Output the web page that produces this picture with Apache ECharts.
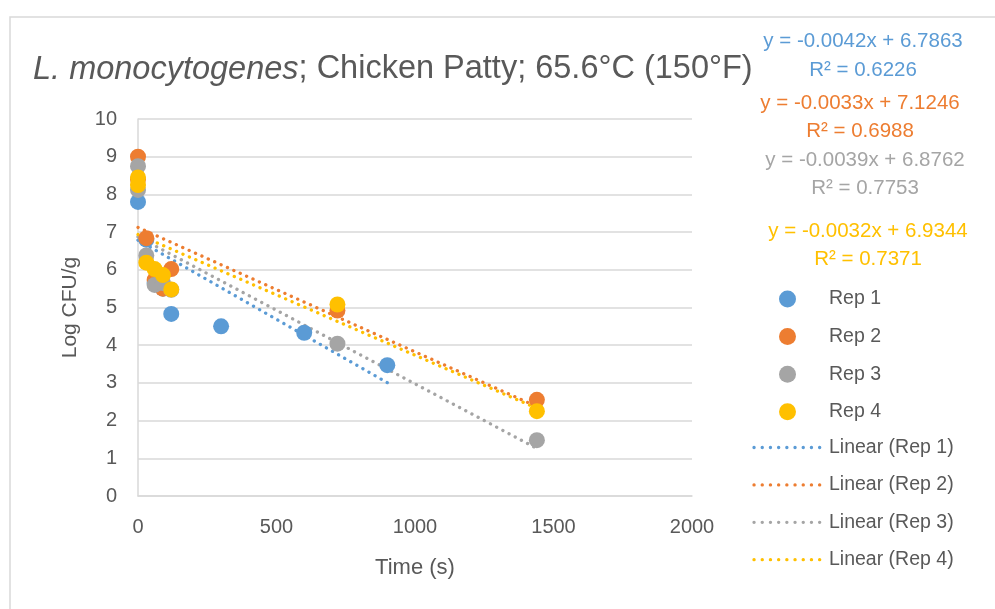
<!DOCTYPE html>
<html><head><meta charset="utf-8">
<script src="https://cdn.jsdelivr.net/npm/echarts@6/dist/echarts.min.js"></script>
<style>html,body{margin:0;padding:0;background:#fff}#c{width:995px;height:609px}</style>
</head><body><div id="c"></div>
<script>
// Data (time in s, Log CFU/g)
const rep1X = [0, 30, 60, 90, 120, 300, 600, 900];
const rep1Y = [7.8, 6.8, 5.65, 5.5, 4.83, 4.5, 4.33, 3.47];
const rep2X = [0, 0, 30, 60, 90, 120, 720, 1440];
const rep2Y = [9.0, 8.4, 6.84, 5.73, 5.5, 6.02, 4.92, 2.55];
const rep3X = [0, 0, 30, 60, 90, 120, 720, 1440];
const rep3Y = [8.75, 8.12, 6.38, 5.6, 5.65, 5.47, 4.04, 1.48];
const rep4X = [0, 0, 30, 60, 90, 120, 720, 1440];
const rep4Y = [8.45, 8.25, 6.19, 6.02, 5.86, 5.48, 5.08, 2.25];
const seriesNames = ['Rep 1', 'Rep 2', 'Rep 3', 'Rep 4'];
const colors = ['#5b9bd5', '#ed7d31', '#a5a5a5', '#ffc000'];
// Trendline coefficients from chart labels
const slopes = [-0.0042, -0.0033, -0.0039, -0.0032];
const intercepts = [6.7863, 7.1246, 6.8762, 6.9344];
const r2 = ['0.6226', '0.6988', '0.7753', '0.7371'];
const eqText = ['y = -0.0042x + 6.7863', 'y = -0.0033x + 7.1246', 'y = -0.0039x + 6.8762', 'y = -0.0032x + 6.9344'];
const trendRange = [[0, 900], [0, 1440], [0, 1440], [0, 1440]];
const xTicks = [0, 500, 1000, 1500, 2000];

const xs = [rep1X, rep2X, rep3X, rep4X];
const ys = [rep1Y, rep2Y, rep3Y, rep4Y];
const FONT = '"Liberation Sans", sans-serif';
const dotStyle = (c) => ({ color: c, width: 3.3, type: [0.1, 6.9], cap: 'round' });

const series = [];
for (let i = 0; i < 4; i++) {
  series.push({
    name: seriesNames[i], type: 'scatter', symbol: 'circle', symbolSize: 16,
    itemStyle: { color: colors[i], opacity: 1 },
    data: xs[i].map((x, j) => [x, ys[i][j]]), z: 3 + i
  });
}
for (let i = 0; i < 4; i++) {
  const r = trendRange[i];
  series.push({
    name: 'Linear (' + seriesNames[i] + ')', type: 'line', symbol: 'none', silent: true,
    lineStyle: dotStyle(colors[i]),
    data: r.map(x => [x, intercepts[i] + slopes[i] * x]), z: 2
  });
}

const eqPos = [[41, 70], [103, 131], [160, 188], [231, 259]];
const eqCx = [863, 860, 865, 868];
const graphics = [{
  type: 'rect', shape: { x: 10, y: 17, width: 1000, height: 620 },
  style: { fill: 'none', stroke: '#d9d9d9', lineWidth: 1.5 }, silent: true
}];
for (let i = 0; i < 4; i++) {
  graphics.push({ type: 'text', x: eqCx[i], y: eqPos[i][0], style: { text: eqText[i], fill: colors[i], font: '20.5px ' + FONT, textAlign: 'center', textVerticalAlign: 'middle' } });
  graphics.push({ type: 'text', x: eqCx[i], y: eqPos[i][1], style: { text: 'R² = ' + r2[i], fill: colors[i], font: '20.5px ' + FONT, textAlign: 'center', textVerticalAlign: 'middle' } });
}
// legend entries for the trendlines
const legY0 = 447.5, legStep = 37.4;
for (let i = 0; i < 4; i++) {
  const y = legY0 + legStep * i;
  graphics.push({ type: 'line', shape: { x1: 754, y1: y, x2: 820, y2: y }, style: { stroke: colors[i], lineWidth: 3.3, lineDash: [0.1, 8.1], lineCap: 'round' }, silent: true });
  graphics.push({ type: 'text', x: 829, y: y, style: { text: 'Linear (' + seriesNames[i] + ')', fill: '#595959', font: '19.5px ' + FONT, textAlign: 'left', textVerticalAlign: 'middle' } });
}

const chart = echarts.init(document.getElementById('c'), null, { renderer: 'canvas' });
chart.setOption({
  animation: false,
  backgroundColor: '#fff',
  title: {
    text: '{i|L. monocytogenes}{n|; Chicken Patty; 65.6°C (150°F)}',
    left: 28, top: 48,
    textStyle: {
      rich: {
        i: { fontStyle: 'italic', fontWeight: 'normal', fontSize: 32.5, color: '#595959', fontFamily: 'Liberation Sans' },
        n: { fontWeight: 'normal', fontSize: 32.5, color: '#595959', fontFamily: 'Liberation Sans' }
      }
    }
  },
  grid: { left: 138, right: 303, top: 119, bottom: 113, containLabel: false },
  xAxis: {
    type: 'value', min: 0, max: 2000, interval: 500,
    name: 'Time (s)', nameLocation: 'middle', nameGap: 61,
    nameTextStyle: { color: '#595959', fontSize: 22, fontFamily: 'Liberation Sans' },
    axisLine: { show: true, lineStyle: { color: '#d9d9d9', width: 1.5 } },
    axisTick: { show: false },
    splitLine: { show: false },
    axisLabel: { color: '#595959', fontSize: 20, margin: 21, fontFamily: 'Liberation Sans',
      formatter: v => xTicks.includes(v) ? String(v) : '' }
  },
  yAxis: {
    type: 'value', min: 0, max: 10, interval: 1,
    name: 'Log CFU/g', nameLocation: 'middle', nameGap: 57,
    nameTextStyle: { color: '#595959', fontSize: 21, fontFamily: 'Liberation Sans' },
    axisLine: { show: true, lineStyle: { color: '#d9d9d9', width: 1.5 } },
    axisTick: { show: false },
    splitLine: { show: true, lineStyle: { color: '#d9d9d9', width: 1.5 } },
    axisLabel: { color: '#595959', fontSize: 20, margin: 21, fontFamily: 'Liberation Sans' }
  },
  legend: {
    orient: 'vertical', left: 779, top: 289, itemWidth: 17, itemHeight: 17, itemGap: 17.6, padding: 0,
    data: seriesNames,
    textStyle: { color: '#595959', fontSize: 19.5, fontFamily: 'Liberation Sans', padding: [0, 0, 0, 28] }
  },
  graphic: graphics,
  series: series
});
</script></body></html>
